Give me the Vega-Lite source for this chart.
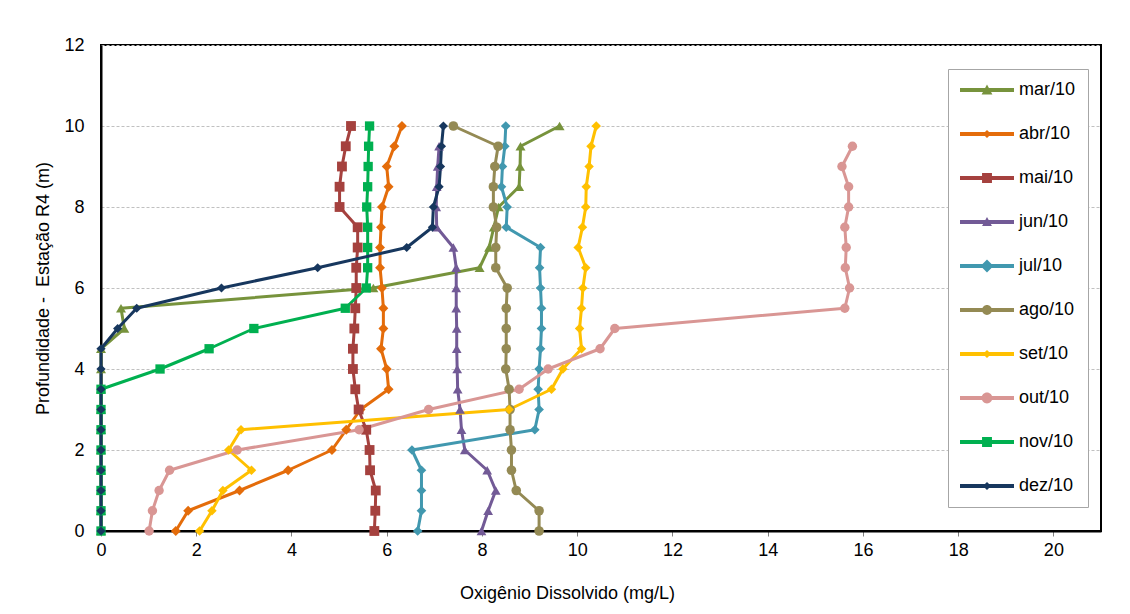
{
  "$schema": "https://vega.github.io/schema/vega-lite/v6.json",
  "width": 1000,
  "height": 486,
  "autosize": {"type": "none"},
  "padding": {"left": 101, "top": 45, "right": 29, "bottom": 83},
  "background": "white",
  "config": {
    "font": "Liberation Sans",
    "view": {"stroke": "black", "strokeWidth": 2}
  },
  "datasets": {
    "perfis": [
      {"mes":"mar/10","prof":10,"od":9.63},{"mes":"mar/10","prof":9.5,"od":8.81},{"mes":"mar/10","prof":9,"od":8.8},{"mes":"mar/10","prof":8.5,"od":8.78},{"mes":"mar/10","prof":8,"od":8.35},{"mes":"mar/10","prof":7.5,"od":8.25},{"mes":"mar/10","prof":7,"od":8.15},{"mes":"mar/10","prof":6.5,"od":7.95},{"mes":"mar/10","prof":6,"od":5.72},{"mes":"mar/10","prof":5.5,"od":0.42},{"mes":"mar/10","prof":5,"od":0.49},{"mes":"mar/10","prof":4.5,"od":0},{"mes":"mar/10","prof":4,"od":0},{"mes":"mar/10","prof":3.5,"od":0},{"mes":"mar/10","prof":3,"od":0},{"mes":"mar/10","prof":2.5,"od":0},{"mes":"mar/10","prof":2,"od":0},{"mes":"mar/10","prof":1.5,"od":0},{"mes":"mar/10","prof":1,"od":0},{"mes":"mar/10","prof":0.5,"od":0},{"mes":"mar/10","prof":0,"od":0},
      {"mes":"abr/10","prof":10,"od":6.32},{"mes":"abr/10","prof":9.5,"od":6.16},{"mes":"abr/10","prof":9,"od":6.0},{"mes":"abr/10","prof":8.5,"od":6.04},{"mes":"abr/10","prof":8,"od":5.9},{"mes":"abr/10","prof":7.5,"od":5.88},{"mes":"abr/10","prof":7,"od":5.86},{"mes":"abr/10","prof":6.5,"od":5.86},{"mes":"abr/10","prof":6,"od":5.9},{"mes":"abr/10","prof":5.5,"od":5.93},{"mes":"abr/10","prof":5,"od":5.93},{"mes":"abr/10","prof":4.5,"od":5.88},{"mes":"abr/10","prof":4,"od":6.0},{"mes":"abr/10","prof":3.5,"od":6.04},{"mes":"abr/10","prof":3,"od":5.45},{"mes":"abr/10","prof":2.5,"od":5.15},{"mes":"abr/10","prof":2,"od":4.85},{"mes":"abr/10","prof":1.5,"od":3.93},{"mes":"abr/10","prof":1,"od":2.91},{"mes":"abr/10","prof":0.5,"od":1.83},{"mes":"abr/10","prof":0,"od":1.57},
      {"mes":"mai/10","prof":10,"od":5.25},{"mes":"mai/10","prof":9.5,"od":5.14},{"mes":"mai/10","prof":9,"od":5.06},{"mes":"mai/10","prof":8.5,"od":5.01},{"mes":"mai/10","prof":8,"od":5.01},{"mes":"mai/10","prof":7.5,"od":5.39},{"mes":"mai/10","prof":7,"od":5.39},{"mes":"mai/10","prof":6.5,"od":5.36},{"mes":"mai/10","prof":6,"od":5.36},{"mes":"mai/10","prof":5.5,"od":5.34},{"mes":"mai/10","prof":5,"od":5.32},{"mes":"mai/10","prof":4.5,"od":5.29},{"mes":"mai/10","prof":4,"od":5.29},{"mes":"mai/10","prof":3.5,"od":5.34},{"mes":"mai/10","prof":3,"od":5.41},{"mes":"mai/10","prof":2.5,"od":5.57},{"mes":"mai/10","prof":2,"od":5.64},{"mes":"mai/10","prof":1.5,"od":5.65},{"mes":"mai/10","prof":1,"od":5.77},{"mes":"mai/10","prof":0.5,"od":5.76},{"mes":"mai/10","prof":0,"od":5.74},
      {"mes":"jun/10","prof":9.5,"od":7.1},{"mes":"jun/10","prof":9,"od":7.07},{"mes":"jun/10","prof":8.5,"od":7.05},{"mes":"jun/10","prof":8,"od":7.04},{"mes":"jun/10","prof":7.5,"od":7.05},{"mes":"jun/10","prof":7,"od":7.4},{"mes":"jun/10","prof":6.5,"od":7.46},{"mes":"jun/10","prof":6,"od":7.46},{"mes":"jun/10","prof":5.5,"od":7.46},{"mes":"jun/10","prof":5,"od":7.47},{"mes":"jun/10","prof":4.5,"od":7.47},{"mes":"jun/10","prof":4,"od":7.48},{"mes":"jun/10","prof":3.5,"od":7.49},{"mes":"jun/10","prof":3,"od":7.54},{"mes":"jun/10","prof":2.5,"od":7.57},{"mes":"jun/10","prof":2,"od":7.64},{"mes":"jun/10","prof":1.5,"od":8.11},{"mes":"jun/10","prof":1,"od":8.29},{"mes":"jun/10","prof":0.5,"od":8.13},{"mes":"jun/10","prof":0,"od":7.99},
      {"mes":"jul/10","prof":10,"od":8.5},{"mes":"jul/10","prof":9.5,"od":8.48},{"mes":"jul/10","prof":9,"od":8.43},{"mes":"jul/10","prof":8.5,"od":8.41},{"mes":"jul/10","prof":8,"od":8.53},{"mes":"jul/10","prof":7.5,"od":8.51},{"mes":"jul/10","prof":7,"od":9.23},{"mes":"jul/10","prof":6.5,"od":9.21},{"mes":"jul/10","prof":6,"od":9.23},{"mes":"jul/10","prof":5.5,"od":9.25},{"mes":"jul/10","prof":5,"od":9.25},{"mes":"jul/10","prof":4.5,"od":9.23},{"mes":"jul/10","prof":4,"od":9.2},{"mes":"jul/10","prof":3.5,"od":9.18},{"mes":"jul/10","prof":3,"od":9.2},{"mes":"jul/10","prof":2.5,"od":9.11},{"mes":"jul/10","prof":2,"od":6.53},{"mes":"jul/10","prof":1.5,"od":6.73},{"mes":"jul/10","prof":1,"od":6.73},{"mes":"jul/10","prof":0.5,"od":6.73},{"mes":"jul/10","prof":0,"od":6.65},
      {"mes":"ago/10","prof":10,"od":7.4},{"mes":"ago/10","prof":9.5,"od":8.34},{"mes":"ago/10","prof":9,"od":8.27},{"mes":"ago/10","prof":8.5,"od":8.24},{"mes":"ago/10","prof":8,"od":8.24},{"mes":"ago/10","prof":7.5,"od":8.31},{"mes":"ago/10","prof":7,"od":8.29},{"mes":"ago/10","prof":6.5,"od":8.29},{"mes":"ago/10","prof":6,"od":8.53},{"mes":"ago/10","prof":5.5,"od":8.51},{"mes":"ago/10","prof":5,"od":8.51},{"mes":"ago/10","prof":4.5,"od":8.51},{"mes":"ago/10","prof":4,"od":8.5},{"mes":"ago/10","prof":3.5,"od":8.57},{"mes":"ago/10","prof":3,"od":8.59},{"mes":"ago/10","prof":2.5,"od":8.59},{"mes":"ago/10","prof":2,"od":8.62},{"mes":"ago/10","prof":1.5,"od":8.62},{"mes":"ago/10","prof":1,"od":8.72},{"mes":"ago/10","prof":0.5,"od":9.2},{"mes":"ago/10","prof":0,"od":9.2},
      {"mes":"set/10","prof":10,"od":10.4},{"mes":"set/10","prof":9.5,"od":10.29},{"mes":"set/10","prof":9,"od":10.25},{"mes":"set/10","prof":8.5,"od":10.19},{"mes":"set/10","prof":8,"od":10.18},{"mes":"set/10","prof":7.5,"od":10.11},{"mes":"set/10","prof":7,"od":10.02},{"mes":"set/10","prof":6.5,"od":10.18},{"mes":"set/10","prof":6,"od":10.12},{"mes":"set/10","prof":5.5,"od":10.09},{"mes":"set/10","prof":5,"od":10.05},{"mes":"set/10","prof":4.5,"od":10.09},{"mes":"set/10","prof":4,"od":9.7},{"mes":"set/10","prof":3.5,"od":9.46},{"mes":"set/10","prof":3,"od":8.57},{"mes":"set/10","prof":2.5,"od":2.94},{"mes":"set/10","prof":2,"od":2.68},{"mes":"set/10","prof":1.5,"od":3.16},{"mes":"set/10","prof":1,"od":2.56},{"mes":"set/10","prof":0.5,"od":2.33},{"mes":"set/10","prof":0,"od":2.07},
      {"mes":"out/10","prof":9.5,"od":15.78},{"mes":"out/10","prof":9,"od":15.56},{"mes":"out/10","prof":8.5,"od":15.7},{"mes":"out/10","prof":8,"od":15.7},{"mes":"out/10","prof":7.5,"od":15.62},{"mes":"out/10","prof":7,"od":15.65},{"mes":"out/10","prof":6.5,"od":15.63},{"mes":"out/10","prof":6,"od":15.72},{"mes":"out/10","prof":5.5,"od":15.62},{"mes":"out/10","prof":5,"od":10.79},{"mes":"out/10","prof":4.5,"od":10.48},{"mes":"out/10","prof":4,"od":9.39},{"mes":"out/10","prof":3.5,"od":8.78},{"mes":"out/10","prof":3,"od":6.88},{"mes":"out/10","prof":2.5,"od":5.42},{"mes":"out/10","prof":2,"od":2.86},{"mes":"out/10","prof":1.5,"od":1.44},{"mes":"out/10","prof":1,"od":1.22},{"mes":"out/10","prof":0.5,"od":1.08},{"mes":"out/10","prof":0,"od":1.01},
      {"mes":"nov/10","prof":10,"od":5.64},{"mes":"nov/10","prof":9.5,"od":5.62},{"mes":"nov/10","prof":9,"od":5.61},{"mes":"nov/10","prof":8.5,"od":5.6},{"mes":"nov/10","prof":8,"od":5.58},{"mes":"nov/10","prof":7.5,"od":5.6},{"mes":"nov/10","prof":7,"od":5.6},{"mes":"nov/10","prof":6.5,"od":5.6},{"mes":"nov/10","prof":6,"od":5.57},{"mes":"nov/10","prof":5.5,"od":5.13},{"mes":"nov/10","prof":5,"od":3.21},{"mes":"nov/10","prof":4.5,"od":2.27},{"mes":"nov/10","prof":4,"od":1.24},{"mes":"nov/10","prof":3.5,"od":0},{"mes":"nov/10","prof":3,"od":0},{"mes":"nov/10","prof":2.5,"od":0},{"mes":"nov/10","prof":2,"od":0},{"mes":"nov/10","prof":1.5,"od":0},{"mes":"nov/10","prof":1,"od":0},{"mes":"nov/10","prof":0.5,"od":0},{"mes":"nov/10","prof":0,"od":0},
      {"mes":"dez/10","prof":10,"od":7.19},{"mes":"dez/10","prof":9.5,"od":7.15},{"mes":"dez/10","prof":9,"od":7.13},{"mes":"dez/10","prof":8.5,"od":7.1},{"mes":"dez/10","prof":8,"od":6.98},{"mes":"dez/10","prof":7.5,"od":6.96},{"mes":"dez/10","prof":7,"od":6.42},{"mes":"dez/10","prof":6.5,"od":4.55},{"mes":"dez/10","prof":6,"od":2.53},{"mes":"dez/10","prof":5.5,"od":0.75},{"mes":"dez/10","prof":5,"od":0.35},{"mes":"dez/10","prof":4.5,"od":0},{"mes":"dez/10","prof":4,"od":0},{"mes":"dez/10","prof":3.5,"od":0},{"mes":"dez/10","prof":3,"od":0},{"mes":"dez/10","prof":2.5,"od":0},{"mes":"dez/10","prof":2,"od":0},{"mes":"dez/10","prof":1.5,"od":0},{"mes":"dez/10","prof":1,"od":0},{"mes":"dez/10","prof":0.5,"od":0},{"mes":"dez/10","prof":0,"od":0}
    ]
  },
  "data": {"name": "perfis"},
  "encoding": {
    "x": {
      "field": "od", "type": "quantitative",
      "scale": {"domain": [0, 21], "nice": false, "zero": false},
      "axis": {
        "title": "Oxigênio Dissolvido (mg/L)",
        "values": [0, 2, 4, 6, 8, 10, 12, 14, 16, 18, 20],
        "grid": false,
        "domainColor": "black", "domainWidth": 2,
        "tickColor": "#808080", "tickSize": 5, "tickWidth": 1,
        "labelFontSize": 18, "labelColor": "black", "labelPadding": 5, "labelFlush": false,
        "titleFontSize": 18, "titleFontWeight": "normal", "titleColor": "black",
        "titlePadding": 25, "titleX": 466
      }
    },
    "y": {
      "field": "prof", "type": "quantitative",
      "scale": {"domain": [0, 12], "nice": false},
      "axis": {
        "title": "Profundidade - \u00a0Estação R4 (m)",
        "values": [0, 2, 4, 6, 8, 10, 12],
        "grid": true, "gridColor": "#c0c0c0", "gridDash": [3, 2], "gridWidth": 1,
        "domainColor": "black", "domainWidth": 2,
        "ticks": false,
        "labelFontSize": 18, "labelColor": "black", "labelPadding": 17, "labelFlush": false,
        "titleFontSize": 18, "titleFontWeight": "normal", "titleColor": "black",
        "titlePadding": 11
      }
    },
    "order": {"field": "prof", "type": "quantitative"}
  },
  "layer": [
    {
      "mark": {"type": "line", "strokeWidth": 3, "strokeJoin": "round"},
      "encoding": {
        "color": {
          "field": "mes", "type": "nominal",
          "scale": {
            "domain": ["mar/10","abr/10","mai/10","jun/10","jul/10","ago/10","set/10","out/10","nov/10","dez/10"],
            "range": ["#77933C","#E46C0A","#A5413E","#725A96","#4198AF","#948A54","#FFC000","#D99694","#00B050","#17375E"]
          },
          "legend": {
            "title": null,
            "orient": "none", "legendX": 847, "legendY": 24,
            "symbolSize": 324, "symbolStrokeWidth": 0,
            "labelFontSize": 18, "labelColor": "black", "labelOffset": 41, "labelLimit": 200,
            "padding": 12, "rowPadding": 26,
            "strokeColor": "#a6a6a6", "fillColor": "white",
            "encode": {
              "symbols": {
                "update": {
                  "shape": {"signal": "datum.value === 'mar/10' ? 'M-1,-0.22H5V0.22H-1ZM2,-0.6L2.6,0.5H1.4Z' : datum.value === 'abr/10' ? 'M-1,-0.22H5V0.22H-1ZM2,-0.45L2.45,0L2,0.45L1.55,0Z' : datum.value === 'mai/10' ? 'M-1,-0.22H5V0.22H-1ZM1.45,-0.55H2.55V0.55H1.45Z' : datum.value === 'jun/10' ? 'M-1,-0.22H5V0.22H-1ZM2,-0.55L2.55,0.45H1.45Z' : datum.value === 'jul/10' ? 'M-1,-0.22H5V0.22H-1ZM2,-0.72L2.72,0L2,0.72L1.28,0Z' : datum.value === 'ago/10' ? 'M-1,-0.22H5V0.22H-1ZM1.45,0A0.55,0.55 0 1,1 2.55,0A0.55,0.55 0 1,1 1.45,0Z' : datum.value === 'set/10' ? 'M-1,-0.22H5V0.22H-1ZM2,-0.45L2.45,0L2,0.45L1.55,0Z' : datum.value === 'out/10' ? 'M-1,-0.22H5V0.22H-1ZM1.4,0A0.6,0.6 0 1,1 2.6,0A0.6,0.6 0 1,1 1.4,0Z' : datum.value === 'nov/10' ? 'M-1,-0.22H5V0.22H-1ZM1.45,-0.55H2.55V0.55H1.45Z' : 'M-1,-0.22H5V0.22H-1ZM2,-0.45L2.45,0L2,0.45L1.55,0Z'"},
                  "fill": {"scale": "color", "field": "value"},
                  "stroke": {"value": "transparent"},
                  "opacity": {"value": 1}
                }
              }
            }
          }
        }
      }
    },
    {
      "mark": {"type": "point", "filled": true, "opacity": 1, "strokeWidth": 0},
      "encoding": {
        "fill": {
          "field": "mes", "type": "nominal",
          "scale": {
            "domain": ["dez/10","nov/10","out/10","set/10","ago/10","jul/10","jun/10","mai/10","abr/10","mar/10"],
            "range": ["#17375E","#00B050","#D99694","#FFC000","#948A54","#4198AF","#725A96","#A5413E","#E46C0A","#77933C"]
          },
          "legend": null
        },
        "shape": {
          "field": "mes", "type": "nominal",
          "scale": {
            "domain": ["dez/10","nov/10","out/10","set/10","ago/10","jul/10","jun/10","mai/10","abr/10","mar/10"],
            "range": ["diamond","square","circle","diamond","circle","diamond","triangle-up","square","diamond","triangle-up"]
          },
          "legend": null
        },
        "size": {
          "field": "mes", "type": "nominal",
          "scale": {
            "domain": ["dez/10","nov/10","out/10","set/10","ago/10","jul/10","jun/10","mai/10","abr/10","mar/10"],
            "range": [85, 100, 120, 85, 100, 200, 90, 110, 85, 120]
          },
          "legend": null
        }
      }
    }
  ]
}
